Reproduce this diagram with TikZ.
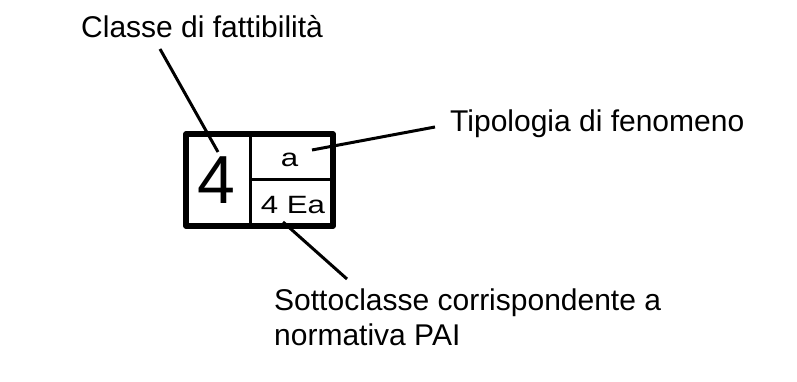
\documentclass[tikz,border=0pt]{standalone}
\usepackage{fontspec}
\setmainfont{Liberation Sans}
\usetikzlibrary{positioning}
\tikzstyle{caption}=[
inner sep=0pt,
font=\fontsize{30}{35}\selectfont
]
\tikzstyle{cell}=[
inner sep=0pt,
xscale=1.25,
font=\fontsize{25}{28}\selectfont
]
\tikzstyle{frame} = [draw,line width=5.5pt,line join=round]
\tikzstyle{divider} = [draw,line width=3pt]
\tikzstyle{pointer} = [draw,line width=3pt,-]

\begin{document}
\begin{tikzpicture}[x=1pt,y=1pt]
			
			\useasboundingbox (0,0) rectangle (797,382);
			
			% box
			\path[frame] (186,248) rectangle (333,156);
			\path[divider] (250,248) -- (250,156);
			\path[divider] (250,202) -- (333,202);
			
			\node[inner sep=0pt,font=\fontsize{68}{70}\selectfont] (classnum) at (216,202) {4};
			\node[cell] (type)	at (289.5,222)	{a};
			\node[cell] (sub)	at (293,177)	{4 Ea};
			
			% labels
			\node[caption,anchor=base west] (classlbl)	at (81,344)	{Classe di fattibilità};
			\node[caption,anchor=base west] (typelbl)	at (450,250)	{Tipologia di fenomeno};
			\node[caption,anchor=north west,align=left] (sublbl) at (274,93) {Sottoclasse corrispondente a\\normativa PAI};
			
			\coordinate (c1) at (160,333);
			\coordinate (c2) at (218,230);
			\coordinate (t1) at (312,232);
			\coordinate (t2) at (435,255);
			\coordinate (s1) at (283,160);
			\coordinate (s2) at (347,103);
			
			\path[pointer]
			(c1) edge (c2)
			(t1) edge (t2)
			(s1) edge (s2);
			
\end{tikzpicture}
\end{document}
